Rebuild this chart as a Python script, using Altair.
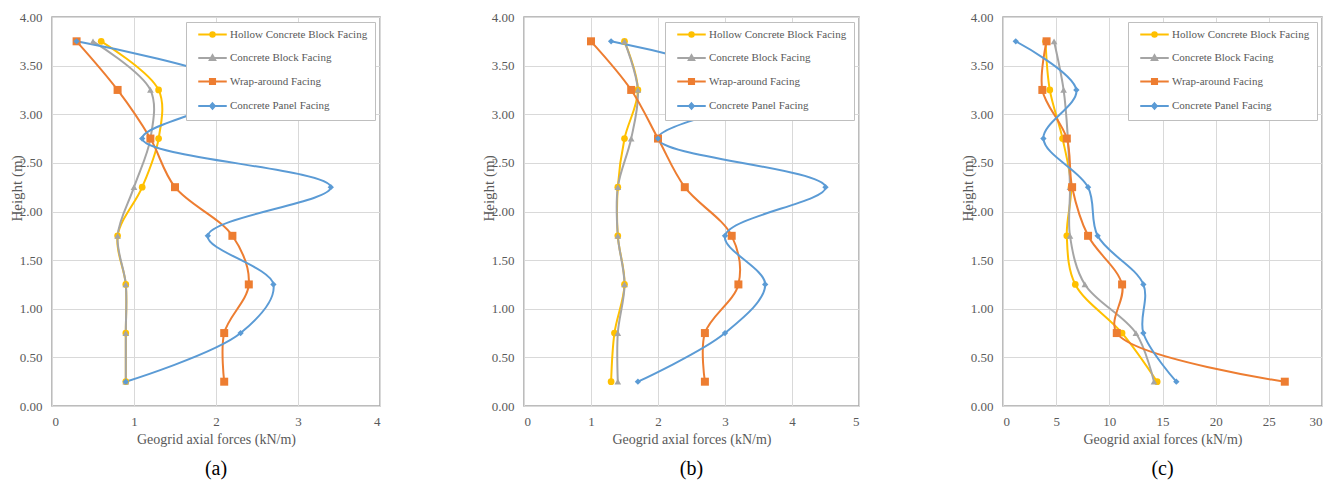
import altair as alt
import pandas as pd

heights = [0.25, 0.75, 1.25, 1.75, 2.25, 2.75, 3.25, 3.75]
series_names = ["Hollow Concrete Block Facing", "Concrete Block Facing",
                "Wrap-around Facing", "Concrete Panel Facing"]
series_colors = ["#FFC000", "#A5A5A5", "#ED7D31", "#5B9BD5"]
point_shapes = ["circle", "triangle-up", "square", "diamond"]
point_sizes = [45, 45, 64, 40]

# panel (a)
a_hollow = [0.9, 0.9, 0.9, 0.8, 1.1, 1.3, 1.3, 0.6]
a_block = [0.9, 0.9, 0.9, 0.8, 1.0, 1.2, 1.2, 0.5]
a_wrap = [2.1, 2.1, 2.4, 2.2, 1.5, 1.2, 0.8, 0.3]
a_panel = [0.9, 2.3, 2.7, 1.9, 3.4, 1.1, 2.3, 0.3]
# panel (b)
b_hollow = [1.3, 1.35, 1.5, 1.4, 1.4, 1.5, 1.7, 1.5]
b_block = [1.4, 1.4, 1.5, 1.4, 1.4, 1.6, 1.7, 1.5]
b_wrap = [2.7, 2.7, 3.2, 3.1, 2.4, 2.0, 1.6, 1.0]
b_panel = [1.7, 3.0, 3.6, 3.0, 4.5, 2.0, 3.6, 1.3]
# panel (c)
c_hollow = [14.5, 11.2, 6.8, 6.0, 6.4, 5.6, 4.4, 4.0]
c_block = [14.2, 12.5, 7.7, 6.3, 6.3, 6.1, 5.7, 4.8]
c_wrap = [26.5, 10.7, 11.2, 8.0, 6.5, 6.0, 3.7, 4.1]
c_panel = [16.3, 13.2, 13.2, 8.9, 8.0, 3.8, 6.9, 1.2]

y_ticks = [0, 0.5, 1.0, 1.5, 2.0, 2.5, 3.0, 3.5, 4.0]

SERIF = "Liberation Serif"
GREY_TXT = "#595959"

# legend symbol paths: a line with the series marker in the middle
legend_paths = [
    "M-4.75,0H4.75M0.75,0A0.75,0.75,0,1,1,-0.75,0A0.75,0.75,0,1,1,0.75,0Z",
    "M-4.75,0H4.75M0,-0.9L0.9,0.7L-0.9,0.7Z",
    "M-4.75,0H4.75M-0.85,-0.85H0.85V0.85H-0.85Z",
    "M-4.75,0H4.75M0,-0.9L0.8,0L0,0.9L-0.8,0Z",
]


def expr_map(values, default):
    e = "'" + default + "'"
    for name, v in reversed(list(zip(series_names, values))):
        e = "datum.value === '" + name + "' ? '" + v + "' : (" + e + ")"
    return e


shape_expr = expr_map(legend_paths, legend_paths[0])
color_expr = expr_map(series_colors, series_colors[0])


def make_legend():
    return alt.Legend(
        title=None, orient="top-right", offset=5,
        fillColor="white", strokeColor="#bfbfbf", padding=7,
        labelFont=SERIF, labelFontSize=11, labelColor=GREY_TXT,
        symbolSize=36, rowPadding=9.5, symbolOffset=14, labelOffset=12,
        symbolType={"expr": shape_expr},
        symbolFillColor={"expr": color_expr},
        symbolStrokeColor={"expr": color_expr},
        symbolStrokeWidth=2, symbolOpacity=1,
    )


def panel(vals, xmax, xstep, width, caption):
    rows = []
    for s, arr in zip(series_names, vals):
        for h, v in zip(heights, arr):
            rows.append({"series": s, "h": h, "force": v})
    df = pd.DataFrame(rows)

    x = alt.X("force:Q",
              scale=alt.Scale(domain=[0, xmax], nice=False, zero=True),
              axis=alt.Axis(values=list(range(0, xmax + 1, xstep)),
                            title="Geogrid axial forces (kN/m)",
                            titleFontSize=14, titlePadding=4, labelPadding=9))
    y = alt.Y("h:Q",
              scale=alt.Scale(domain=[0, 4], nice=False),
              axis=alt.Axis(values=y_ticks, format=".2f", title="Height (m)",
                            titleX=-36, titleY=171, titleBaseline="middle",
                            titleAngle=270, titleFontSize=15, labelPadding=10))
    color = alt.Color("series:N",
                      scale=alt.Scale(domain=series_names, range=series_colors),
                      legend=make_legend())

    base = alt.Chart(df)
    layers = [base.mark_line(interpolate="catmull-rom", strokeWidth=2).encode(
        x=x, y=y, color=color, order=alt.Order("h:Q", sort="descending"),
        detail="series:N")]
    for s, shp, sz in zip(series_names, point_shapes, point_sizes):
        layers.append(
            base.transform_filter(alt.datum.series == s)
            .mark_point(filled=True, opacity=1, shape=shp, size=sz)
            .encode(x=x, y=y, color=color))
    return alt.layer(*layers).properties(
        width=width, height=389,
        title=alt.Title(caption, orient="bottom", font=SERIF, fontSize=20,
                        color="black", fontWeight="normal", offset=13,
                        anchor="middle", frame="group"))


pa = panel([a_hollow, a_block, a_wrap, a_panel], 4, 1, 328, "(a)")
pb = panel([b_hollow, b_block, b_wrap, b_panel], 5, 1, 335, "(b)")
pc = panel([c_hollow, c_block, c_wrap, c_panel], 30, 5, 319, "(c)")

chart = alt.hconcat(pa, pb, pc, spacing=99).resolve_scale(
    color="independent", x="independent", y="independent"
).properties(
    padding={"left": 0, "right": 0, "top": 2, "bottom": 0}
).configure_view(
    stroke="#a6a6a6", strokeWidth=1.5
).configure_axis(
    labelFont=SERIF, labelFontSize=13, labelColor=GREY_TXT,
    titleFont=SERIF, titleColor=GREY_TXT, titleFontWeight="normal",
    grid=True, gridColor="#d9d9d9", gridWidth=1,
    domain=False, ticks=False
)

chart.save("out.html", embed_options={"renderer": "svg", "actions": False})
